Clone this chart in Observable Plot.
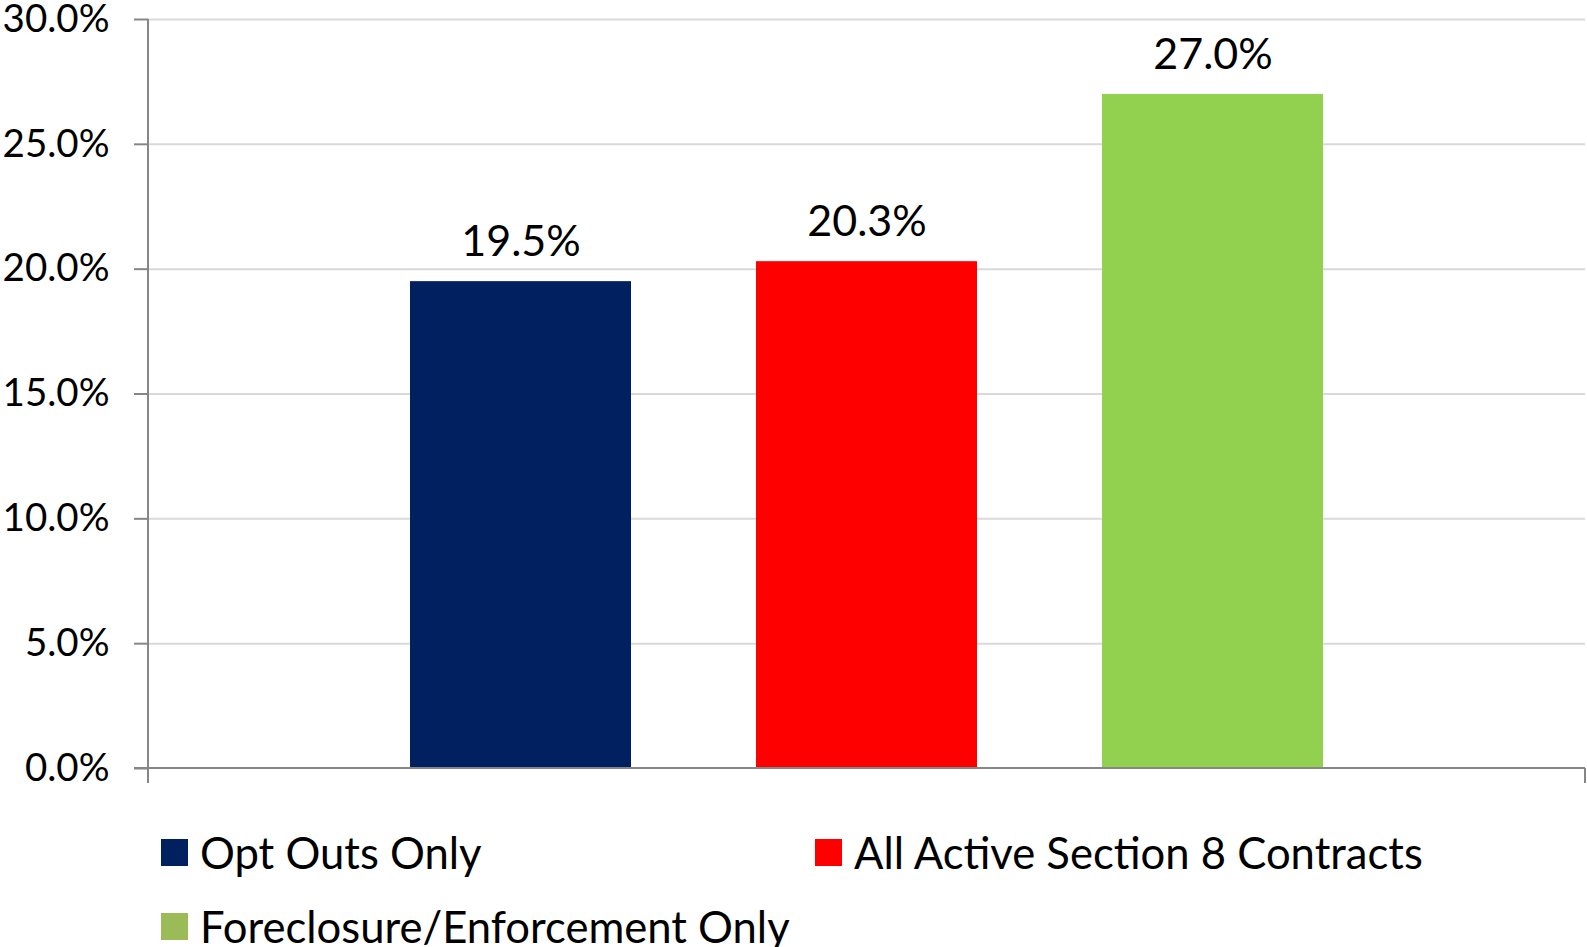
<!DOCTYPE html>
<html>
<head>
<meta charset="utf-8">
<script src="https://cdn.jsdelivr.net/npm/d3@7"></script>
<script src="https://cdn.jsdelivr.net/npm/@observablehq/plot@0.6"></script>
<style>
  html, body { margin: 0; padding: 0; background: #fff; }
  body { width: 1587px; height: 947px; overflow: hidden; font-family: Lato, "Open Sans", sans-serif; }
  #chart svg { display: block; overflow: visible; }
  .legend {
    display: grid;
    grid-template-columns: 654px auto;
    grid-auto-rows: 74px;
    margin-left: 161px;
    margin-top: 15px;
  }
  .legend .item { display: flex; align-items: center; font-size: 43.6px; color: #000; white-space: nowrap; }
  .legend .sw { width: 27px; height: 27px; margin-right: 12px; flex: none; }
</style>
</head>
<body>
<div id="chart"></div>
<div class="legend" id="legend"></div>
<script>
// Share of properties per contract group
const series = ["Opt Outs Only", "All Active Section 8 Contracts", "Foreclosure/Enforcement Only"];
const values = [0.195, 0.203, 0.270];
const barColors = ["#002060", "#FF0000", "#92D050"];
const legendColors = ["#002060", "#FF0000", "#9BBB59"];
const yTicks = [0, 0.05, 0.10, 0.15, 0.20, 0.25, 0.30];

const data = series.map((s, i) => ({series: s, value: values[i], color: barColors[i]}));
const pct = d3.format(".1%");
const axisColor = "#868686";

// Axis lines with the outer tick marks below the baseline
function axisFrame(index, scales, vals, dim) {
  const g = d3.create("svg:g").attr("stroke", axisColor).attr("stroke-width", 2);
  const left = dim.marginLeft;
  const right = dim.width - dim.marginRight;
  const base = scales.y(0);
  const top = scales.y(d3.max(yTicks));
  const tick = 15;
  g.append("line").attr("x1", left).attr("x2", left).attr("y1", top).attr("y2", base + tick);
  g.append("line").attr("x1", left - 14).attr("x2", right).attr("y1", base).attr("y2", base);
  g.append("line").attr("x1", right).attr("x2", right).attr("y1", base).attr("y2", base + tick);
  return g.node();
}

const chart = Plot.plot({
  width: 1587,
  height: 800,
  marginTop: 19,
  marginBottom: 32,
  marginLeft: 148,
  marginRight: 2,
  style: {fontFamily: "Lato, 'Open Sans', sans-serif", background: "#fff", color: "#000", overflow: "visible"},
  x: {type: "band", domain: series, paddingInner: 0.36, paddingOuter: 0.752, axis: null},
  y: {domain: [0, 0.3]},
  marks: [
    Plot.ruleY(yTicks.slice(1), {stroke: "#D9D9D9", strokeWidth: 2}),
    Plot.barY(data, {x: "series", y: "value", fill: "color"}),
    Plot.text(data, {x: "series", y: "value", text: d => pct(d.value), dy: -39, fontSize: 43, fill: "#000"}),
    Plot.axisY({ticks: yTicks, tickFormat: pct, tickSize: 14, tickPadding: 25, stroke: axisColor, strokeWidth: 2, strokeOpacity: 1, fontSize: 38.5, fill: "#000", label: null}),
    axisFrame
  ]
});
document.getElementById("chart").append(chart);

const legend = d3.select("#legend");
series.forEach((s, i) => {
  const item = legend.append("div").attr("class", "item");
  item.append("span").attr("class", "sw").style("background", legendColors[i]);
  item.append("span").text(s);
});
</script>
</body>
</html>
